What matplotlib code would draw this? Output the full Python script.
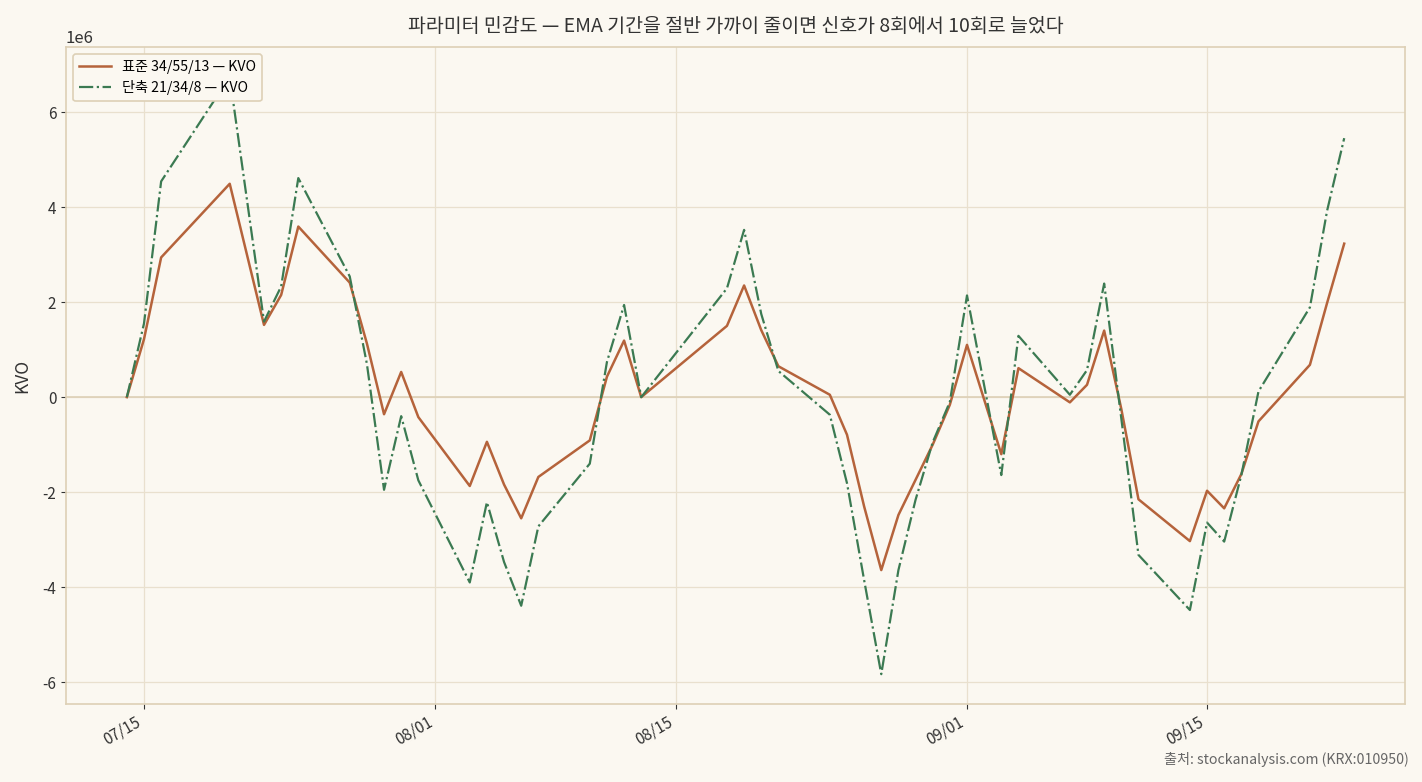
import numpy as np
import pandas as pd
import matplotlib
matplotlib.use("Agg")
import matplotlib.pyplot as plt
import matplotlib.dates as mdates

plt.rcParams['font.family'] = ['Noto Sans CJK KR', 'DejaVu Sans']
plt.rcParams['axes.unicode_minus'] = False

# dates
dates = ["07-14", "07-15", "07-16", "07-20", "07-22", "07-23", "07-24",
         "07-27", "07-28", "07-29", "07-30", "07-31", "08-03", "08-04",
         "08-05", "08-06", "08-07", "08-10", "08-11", "08-12", "08-13",
         "08-18", "08-19", "08-20", "08-21", "08-24", "08-25", "08-26",
         "08-27", "08-28", "08-29", "08-30", "08-31", "09-01", "09-03",
         "09-04", "09-07", "09-08", "09-09", "09-10", "09-11", "09-14",
         "09-15", "09-16", "09-17", "09-18", "09-21", "09-22", "09-23"]

# KVO values in millions
kvo_std = [0.0, 1.22, 2.94, 4.49, 1.52, 2.15, 3.59,
           2.41, 1.13, -0.36, 0.53, -0.42, -1.87, -0.94,
           -1.84, -2.55, -1.68, -0.91, 0.43, 1.19, 0.0,
           1.50, 2.35, 1.41, 0.65, 0.05, -0.79, -2.30,
           -3.64, -2.48, -1.74, -1.00, -0.16, 1.10, -1.20,
           0.61, -0.11, 0.26, 1.40, -0.25, -2.15, -3.03,
           -1.97, -2.34, -1.62, -0.51, 0.68, 1.98, 3.23]

kvo_short = [0.0, 1.55, 4.54, 6.74, 1.59, 2.33, 4.61,
             2.54, 0.70, -1.95, -0.40, -1.75, -3.90, -2.21,
             -3.47, -4.39, -2.72, -1.40, 0.74, 1.94, 0.0,
             2.29, 3.52, 1.75, 0.55, -0.37, -1.81, -3.85,
             -5.83, -3.64, -2.16, -0.95, -0.10, 2.14, -1.64,
             1.29, 0.05, 0.57, 2.39, -0.45, -3.32, -4.48,
             -2.64, -3.04, -1.64, 0.12, 1.89, 3.92, 5.45]

label_std = "표준 34/55/13 — KVO"
label_short = "단축 21/34/8 — KVO"
title = "파라미터 민감도 — EMA 기간을 절반 가까이 줄이면 신호가 8회에서 10회로 늘었다"
source = "출처: stockanalysis.com (KRX:010950)"

x = pd.to_datetime(["2025-" + d for d in dates])
y_std = np.array(kvo_std) * 1e6
y_short = np.array(kvo_short) * 1e6

bg = "#FBF8F1"
edge = "#DDD0B6"
grid_c = "#E9E0CE"

fig = plt.figure(figsize=(14.22, 7.82), dpi=100, facecolor=bg)
ax = fig.add_axes([0.0464, 0.0997, 0.9417, 0.8402])
ax.set_facecolor(bg)

ax.grid(True, color=grid_c, linewidth=0.9)
ax.axhline(0, color="#DDD0B6", linewidth=1.2, zorder=1)
ax.set_axisbelow(True)

ax.plot(x, y_std, color="#B5633B", linewidth=1.8, label=label_std, zorder=3)
ax.plot(x, y_short, color="#3B7A52", linewidth=1.6, linestyle="-.",
        label=label_short, zorder=3)

for s in ax.spines.values():
    s.set_color(edge)
    s.set_linewidth(1.2)

ax.xaxis.set_major_locator(mdates.DayLocator(bymonthday=[1, 15]))
ax.xaxis.set_major_formatter(mdates.DateFormatter("%m/%d"))
for lbl in ax.get_xticklabels():
    lbl.set_rotation(30)
    lbl.set_ha("right")
ax.tick_params(axis="both", labelsize=11, colors="#333333", length=3.5)

ax.set_ylabel("KVO", fontsize=12.5, color="#333333", labelpad=8)
ax.yaxis.get_offset_text().set_fontsize(12)
ax.set_title(title, fontsize=14, color="#333333", pad=11)

leg = ax.legend(loc="upper left", fontsize=10.2, facecolor=bg, edgecolor=edge,
                framealpha=1, handlelength=2.2, borderpad=0.45, labelspacing=0.4)
leg.get_frame().set_linewidth(1.2)

fig.text(0.991, 0.019, source, ha="right", va="bottom", fontsize=10.2, color="#666666")

fig.savefig("out.png", dpi=100, facecolor=bg)
